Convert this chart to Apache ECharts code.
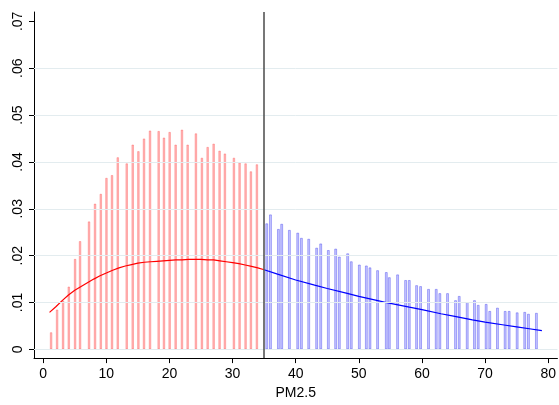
<!DOCTYPE html>
<html>
<head>
<meta charset="utf-8">
<script src="https://cdn.jsdelivr.net/npm/echarts@6/dist/echarts.min.js"></script>
<style>
  html, body { margin: 0; padding: 0; background: #ffffff; }
  #chart { width: 559px; height: 405px; }
</style>
</head>
<body>
<div id="chart"></div>
<script>
// PM2.5 histogram, split at the 35 threshold, with fitted density curves

// Histogram bars below the threshold (bin position, density)
const lowBinX = [1.28, 2.23, 3.18, 4.08, 5.08, 5.87, 7.29, 8.24, 9.15, 10.05, 10.93, 11.84,
  13.26, 14.21, 15.11, 16.0, 16.95, 18.32, 19.16, 20.06, 21.01, 22.01, 22.91, 24.22,
  25.17, 26.08, 27.03, 27.97, 28.81, 30.24, 31.14, 32.09, 32.93, 33.88];
const lowBinY = [0.00365, 0.0085, 0.0104, 0.0134, 0.0193, 0.0231, 0.0273, 0.0311, 0.0332,
  0.0366, 0.0372, 0.0410, 0.0397, 0.0437, 0.0423, 0.0450, 0.0467, 0.0466, 0.0452, 0.0464,
  0.0437, 0.0469, 0.0437, 0.0461, 0.0409, 0.0432, 0.0439, 0.0424, 0.0418, 0.0409, 0.0399,
  0.0397, 0.0380, 0.0395];

// Histogram bars at or above the threshold
const highBinX = [35.41, 36.0, 37.26, 37.78, 39.0, 40.32, 40.9, 42.06, 43.32, 43.96, 45.17,
  46.33, 46.91, 48.23, 48.8, 50.08, 51.19, 51.76, 52.97, 54.35, 54.83, 56.14, 57.41, 57.99,
  59.15, 59.78, 61.04, 62.26, 62.83, 64.05, 65.32, 65.9, 67.17, 68.32, 68.91, 70.17, 70.74,
  71.96, 73.18, 73.81, 75.08, 76.28, 76.87, 78.13];
const highBinY = [0.0269, 0.0288, 0.0257, 0.0268, 0.0255, 0.0249, 0.0238, 0.0236, 0.0217,
  0.0226, 0.0212, 0.0215, 0.0198, 0.0205, 0.0188, 0.0181, 0.0179, 0.0175, 0.0169, 0.0165,
  0.0154, 0.0160, 0.0148, 0.0148, 0.0137, 0.0135, 0.0129, 0.0129, 0.0120, 0.0120, 0.0105,
  0.0114, 0.0101, 0.0105, 0.0095, 0.0097, 0.0082, 0.0089, 0.0082, 0.0082, 0.0079, 0.0080,
  0.0076, 0.0078];

// Fitted curve below the threshold
const lowFitX = [1, 2, 3, 4, 5, 6, 7, 8, 9, 10, 11, 12, 13, 14, 15, 16, 17, 18, 19, 20, 21,
  22, 23, 24, 25, 26, 27, 28, 29, 30, 31, 32, 33, 34, 35];
const lowFitY = [0.0079, 0.0091, 0.0104, 0.0116, 0.0126, 0.0134, 0.0142, 0.0150, 0.0157,
  0.0163, 0.0169, 0.0174, 0.0178, 0.0181, 0.0184, 0.0186, 0.0187, 0.0188, 0.0189, 0.0190,
  0.0191, 0.0191, 0.0192, 0.0192, 0.0192, 0.0191, 0.0191, 0.0189, 0.0187, 0.0185, 0.0183,
  0.0180, 0.0177, 0.0174, 0.0170];

// Fitted curve above the threshold
const highFitX = [35, 37, 40, 43, 45, 48, 50, 53, 55, 58, 60, 63, 65, 68, 70, 73, 75, 77, 79];
const highFitY = [0.0170, 0.0161, 0.0148, 0.0137, 0.0130, 0.0120, 0.0113, 0.0104, 0.0098,
  0.0090, 0.0085, 0.0076, 0.0071, 0.0063, 0.0058, 0.0052, 0.0048, 0.0044, 0.0040];

const threshold = 35;
const xTicks = [0, 10, 20, 30, 40, 50, 60, 70, 80];
const yTicks = [0, 0.01, 0.02, 0.03, 0.04, 0.05, 0.06, 0.07];
const yGrid = [0, 0.01, 0.02, 0.03, 0.04, 0.05, 0.06];

const zip = (xs, ys) => xs.map((x, i) => [x, ys[i]]);
const fmtY = v => (v === 0 ? '0' : v.toFixed(2).replace(/^0/, ''));
const FONT = 'Liberation Sans, Arial, Helvetica, sans-serif';

const chart = echarts.init(document.getElementById('chart'), null, { renderer: 'canvas' });
chart.setOption({
  animation: false,
  backgroundColor: '#ffffff',
  grid: { left: 34, right: 1, top: 12, bottom: 43, containLabel: false },
  xAxis: {
    type: 'value',
    min: -1.46,
    max: 81.46,
    name: 'PM2.5',
    nameLocation: 'middle',
    nameGap: 24,
    nameTextStyle: { fontSize: 14, color: '#000', fontFamily: FONT },
    axisLine: { show: true, onZero: false, lineStyle: { color: '#000', width: 1 } },
    axisTick: { show: true, length: 5, customValues: xTicks, lineStyle: { color: '#000' } },
    axisLabel: { customValues: xTicks, fontSize: 14, color: '#000', margin: 9, fontFamily: FONT },
    splitLine: { show: false }
  },
  yAxis: {
    type: 'value',
    min: -0.00186,
    max: 0.0720,
    axisLine: { show: true, onZero: false, lineStyle: { color: '#000', width: 1 } },
    axisTick: { show: true, length: 5, customValues: yTicks, lineStyle: { color: '#000' } },
    axisLabel: {
      customValues: yTicks, rotate: 90, fontSize: 14, color: '#000', margin: 9,
      fontFamily: FONT, formatter: fmtY
    },
    splitLine: { show: false }
  },
  series: [
    {
      type: 'line',
      data: [],
      z: 1,
      silent: true,
      markLine: {
        silent: true,
        symbol: ['none', 'none'],
        label: { show: false },
        lineStyle: { color: '#e3ecef', width: 1, type: 'solid' },
        data: yGrid.map(v => ({ yAxis: v }))
      }
    },
    {
      name: 'below',
      type: 'bar',
      z: 2,
      barWidth: 2.4,
      barGap: '-100%',
      data: zip(lowBinX, lowBinY),
      itemStyle: { color: 'rgba(255,0,0,0.27)', borderColor: 'rgba(255,50,50,0.38)', borderWidth: 0.8 }
    },
    {
      name: 'above',
      type: 'bar',
      z: 2,
      barWidth: 2.8,
      barGap: '-100%',
      data: zip(highBinX, highBinY),
      itemStyle: { color: 'rgba(0,0,255,0.22)', borderColor: 'rgba(40,40,235,0.4)', borderWidth: 0.9 }
    },
    {
      type: 'line',
      z: 3,
      data: zip(lowFitX, lowFitY),
      showSymbol: false,
      lineStyle: { color: '#ff0000', width: 1.2 }
    },
    {
      type: 'line',
      z: 3,
      data: zip(highFitX, highFitY),
      showSymbol: false,
      lineStyle: { color: '#0000ff', width: 1.2 }
    },
    {
      type: 'line',
      data: [],
      z: 4,
      silent: true,
      markLine: {
        silent: true,
        symbol: ['none', 'none'],
        label: { show: false },
        lineStyle: { color: '#555555', width: 1.6, type: 'solid' },
        data: [{ xAxis: threshold }]
      }
    }
  ]
});
</script>
</body>
</html>
